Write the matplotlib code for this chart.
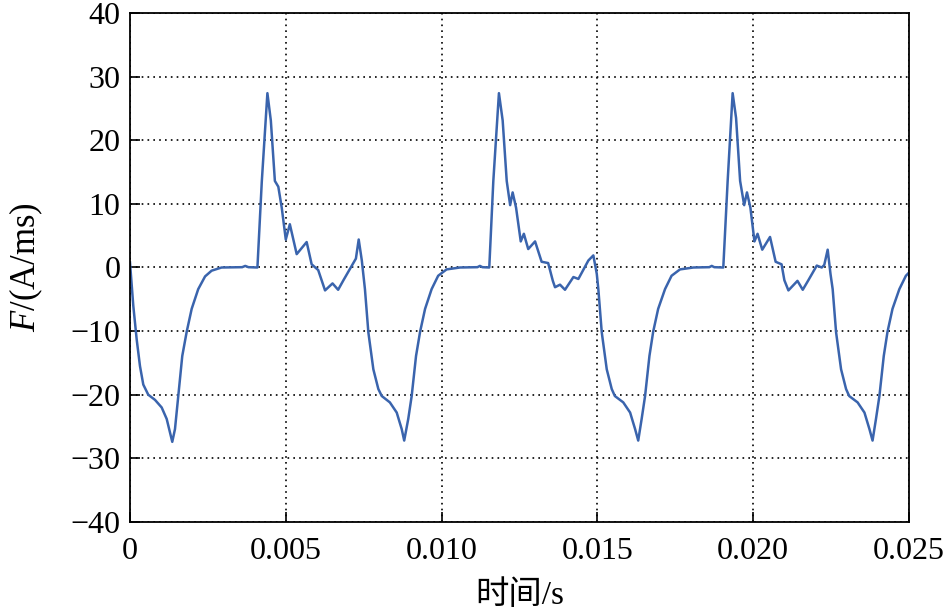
import matplotlib
matplotlib.use("Agg")
import matplotlib.pyplot as plt

plt.rcParams['font.family'] = ['Liberation Serif', 'Noto Sans CJK SC']
plt.rcParams['mathtext.fontset'] = 'custom'
plt.rcParams['mathtext.it'] = 'Liberation Serif:italic'
plt.rcParams['mathtext.rm'] = 'Liberation Serif'

# time (s) and F (A/ms)
t = [0, 0.000106, 0.000215, 0.000321, 0.000427, 0.000587, 0.000802, 0.001017, 0.001178, 0.001284,
     0.001357, 0.001444, 0.00155, 0.001678, 0.00182, 0.00198, 0.00219, 0.00241, 0.00262, 0.00294,
     0.0036, 0.0037, 0.0038, 0.00409, 0.00423, 0.00441, 0.00452, 0.00465, 0.00476, 0.00487,
     0.005, 0.00513, 0.00535, 0.00567, 0.00583, 0.00604, 0.00626, 0.0065, 0.00668, 0.00685,
     0.00706, 0.00725, 0.00734, 0.00744, 0.00754, 0.00765, 0.00781, 0.00797, 0.00808, 0.00834,
     0.00856, 0.00872, 0.0088, 0.00893, 0.00904, 0.00918, 0.00931, 0.00947, 0.00968, 0.00989,
     0.01016, 0.01059,
     0.01115, 0.01123, 0.01131, 0.01153, 0.01166, 0.01184, 0.01196, 0.01209, 0.0122, 0.01228,
     0.01239, 0.01254, 0.01264, 0.01278, 0.013, 0.01321, 0.01342, 0.01357, 0.01364, 0.0138,
     0.01396, 0.01423, 0.01439, 0.01471, 0.01487, 0.01498, 0.01503, 0.01514, 0.0153, 0.01546,
     0.01556, 0.01583, 0.01605, 0.01621, 0.01631, 0.01642, 0.01653, 0.01667, 0.01679, 0.01695,
     0.01717, 0.01738, 0.01765, 0.01808,
     0.01859, 0.01867, 0.01875, 0.01904, 0.01918, 0.01934, 0.01945, 0.01958, 0.01971, 0.0198,
     0.01991, 0.02004, 0.02014, 0.02029, 0.02054, 0.02072, 0.02091, 0.021, 0.02113, 0.02142,
     0.02159, 0.02177, 0.02204, 0.0222, 0.02228, 0.02239, 0.02248, 0.02255, 0.02266, 0.02282,
     0.02298, 0.02308, 0.02335, 0.02357, 0.02373, 0.02383, 0.02394, 0.02405, 0.02419, 0.02431,
     0.02447, 0.02469, 0.0249, 0.025]
F = [0.8, -6, -11.3, -15.5, -18.4, -20, -20.8, -22, -23.8, -25.9,
     -27.4, -25.4, -20.2, -13.9, -10.1, -6.5, -3.4, -1.4, -0.5, 0,
     0.05, 0.25, 0.05, 0, 13.5, 27.4, 23.1, 13.6, 12.7, 9.4,
     4.4, 6.8, 2.1, 4.0, 0.5, -0.4, -3.6, -2.5, -3.5, -2,
     -0.2, 1.4, 4.4, 1.1, -3.4, -10.2, -16, -19.1, -20.2, -21.2,
     -22.8, -25.4, -27.2, -23.8, -20.2, -13.9, -10.1, -6.5, -3.4, -1.3,
     -0.3, 0,
     0.05, 0.25, 0.05, 0, 13.6, 27.4, 23.1, 13.6, 9.8, 11.8,
     9.4, 4.1, 5.3, 2.9, 4.1, 0.9, 0.7, -2.1, -3.1, -2.7,
     -3.5, -1.5, -1.8, 1.1, 1.9, -1, -3.4, -10.2, -16, -19.1,
     -20.2, -21.2, -22.8, -25.4, -27.2, -23.8, -20.2, -13.9, -10.1, -6.5,
     -3.4, -1.3, -0.3, 0,
     0.05, 0.25, 0.05, 0, 13.6, 27.4, 23.5, 13.6, 9.8, 11.8,
     9.4, 4.1, 5.3, 2.8, 4.8, 0.9, 0.5, -2, -3.6, -2.1,
     -3.5, -2, 0.3, 0, 0.4, 2.8, -1, -3.4, -10.2, -16,
     -19.1, -20.2, -21.2, -22.8, -25.4, -27.2, -23.8, -20.2, -13.9, -10.1,
     -6.5, -3.4, -1.3, -0.8]

xticks = [0, 0.005, 0.010, 0.015, 0.020, 0.025]
xlabels = ['0', '0.005', '0.010', '0.015', '0.020', '0.025']
yticks = [-40, -30, -20, -10, 0, 10, 20, 30, 40]

fig = plt.figure(figsize=(9.46, 6.16), dpi=100)
ax = fig.add_axes([0.1374, 0.1526, 0.8235, 0.8263])

ax.plot(t, F, color='#3a64ad', lw=1.8, solid_joinstyle='round')

ax.set_xlim(0, 0.025)
ax.set_ylim(-40, 40)
ax.set_xticks(xticks)
ax.set_xticklabels(xlabels)
ax.set_yticks(yticks)
ax.set_yticklabels([str(v).replace('-', '\u2212') for v in yticks])
ax.grid(True, color='black', linestyle=(0, (1, 2.5)), lw=1.2)
ax.tick_params(direction='in', length=7, width=1.2, labelsize=23)
ax.tick_params(axis='y', pad=7)
ax.tick_params(axis='x', pad=11)
for s in ax.spines.values():
    s.set_linewidth(1.3)

ax.set_xlabel('时间/s', fontsize=24, labelpad=10)
ax.set_ylabel('$F$/(A/ms)', fontsize=25, labelpad=18)

fig.savefig('out.png', dpi=100)
